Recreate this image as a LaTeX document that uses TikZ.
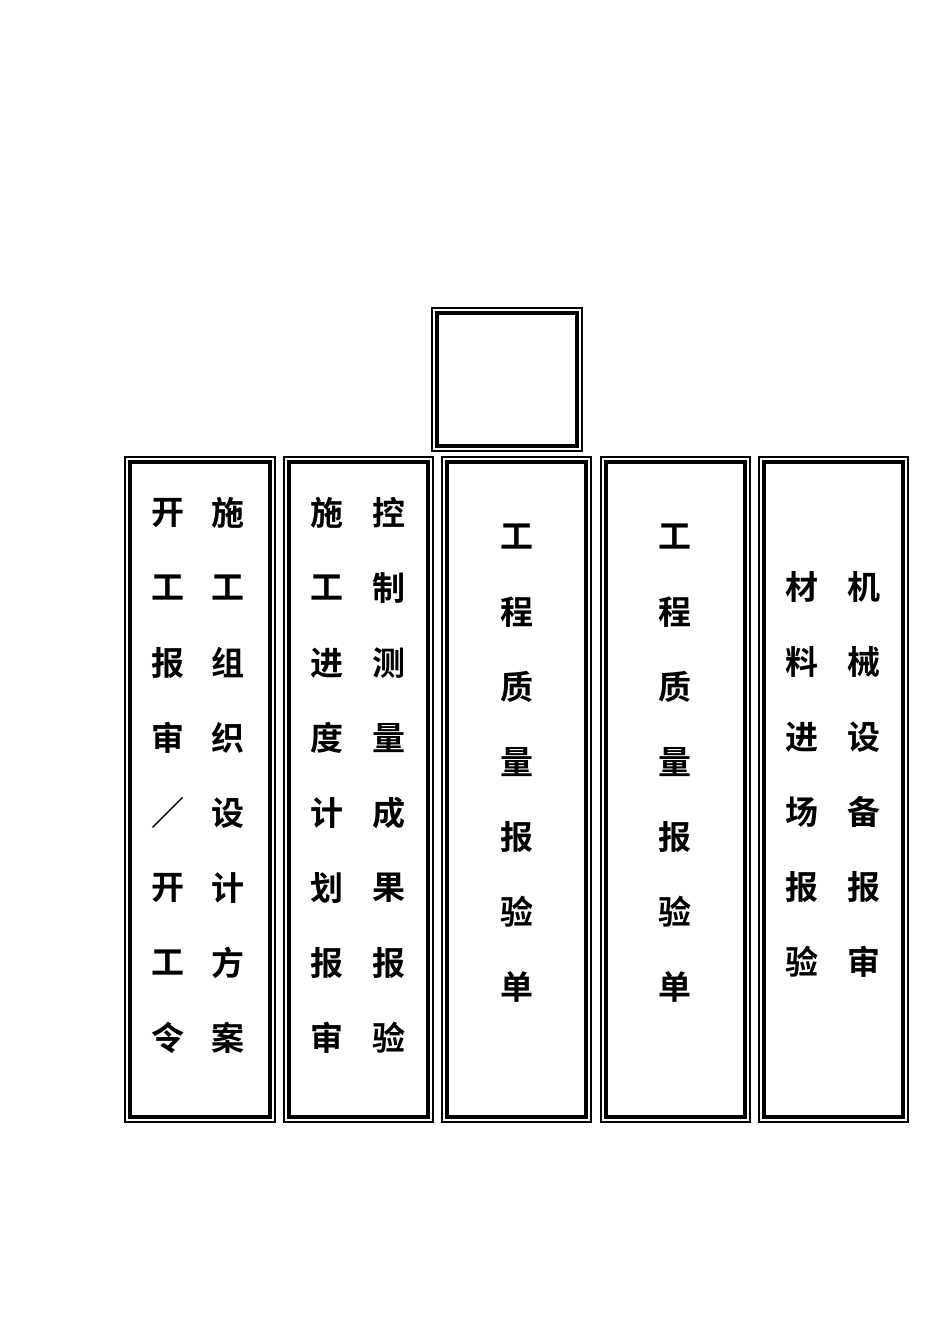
\documentclass[tikz,border=0pt]{standalone}
\usepackage{fontspec}
\newfontfamily\cjk{Noto Sans CJK SC Bold}
\begin{document}
\begin{tikzpicture}[x=1pt,y=-1pt,
  ch/.style={font=\cjk\fontsize{33}{33}\selectfont,inner sep=0pt,anchor=center}]
\useasboundingbox (0,0) rectangle (950,1344);
\fill[white] (0,0) rectangle (950,1344);
\newcommand\dbox[5]{%
  \draw[line width=1.2pt] (#1,#2) rectangle (#3,#4);
  \draw[line width=3.2pt] (#1+5,#2+5) rectangle (#3-5,#4-5);
  \coordinate (#5) at ({(#1+#3)/2},{(#2+#4)/2});}
\dbox{432}{308}{582}{451}{top}
\dbox{125}{457}{275}{1122}{c1}
\dbox{284}{457}{433}{1122}{c2}
\dbox{442}{457}{591}{1122}{c3}
\dbox{601}{457}{750}{1122}{c4}
\dbox{759}{457}{908}{1122}{c5}
\newcommand\col[4]{%
  \foreach \t [count=\i from 0] in {#4} {\node[ch] (n#1\i) at (#2,{#3+75*\i}) {\t};}}
\col{a}{168}{513}{开,工,报,审,／,开,工,令}
\col{b}{228}{513}{施,工,组,织,设,计,方,案}
\col{c}{327}{513}{施,工,进,度,计,划,报,审}
\col{d}{389}{513}{控,制,测,量,成,果,报,验}
\col{e}{517}{537}{工,程,质,量,报,验,单}
\col{f}{675}{537}{工,程,质,量,报,验,单}
\col{g}{802}{587}{材,料,进,场,报,验}
\col{h}{864}{587}{机,械,设,备,报,审}
\end{tikzpicture}
\end{document}
